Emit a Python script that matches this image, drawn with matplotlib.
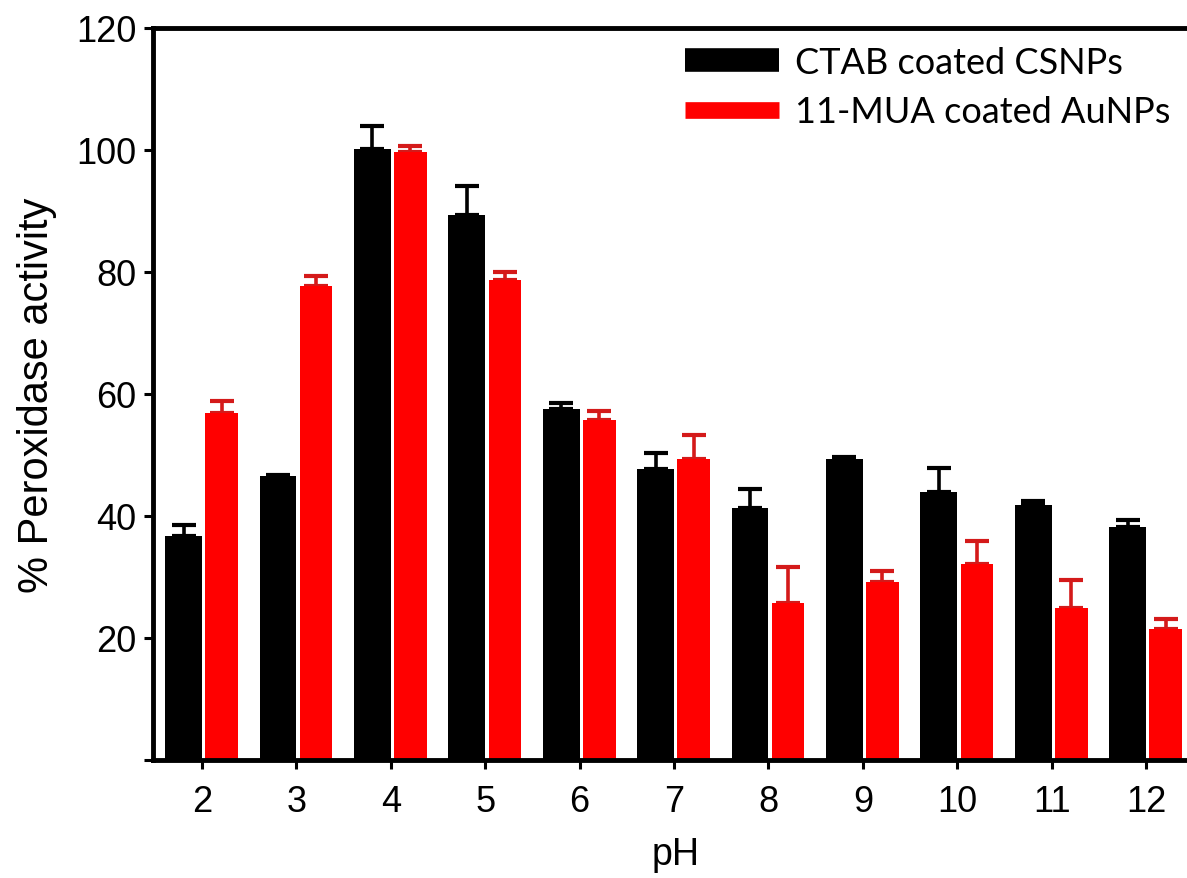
import matplotlib
matplotlib.use("Agg")
import matplotlib.pyplot as plt
from matplotlib.lines import Line2D
import numpy as np

# ---- data ----
ph = [2, 3, 4, 5, 6, 7, 8, 9, 10, 11, 12]
ctab_mean = [36.7, 46.5, 100.1, 89.4, 57.5, 47.7, 41.3, 49.4, 44.0, 41.8, 38.2]
ctab_err = [1.8, 0.3, 3.8, 4.7, 1.1, 2.7, 3.1, 0.3, 3.9, 0.7, 1.1]
mua_mean = [56.9, 77.7, 99.7, 78.7, 55.7, 49.3, 25.8, 29.1, 32.2, 24.9, 21.4]
mua_err = [1.9, 1.6, 1.0, 1.3, 1.5, 3.9, 5.8, 1.9, 3.7, 4.6, 1.7]
series_labels = ["CTAB coated CSNPs", "11-MUA coated AuNPs"]
yticks = [0, 20, 40, 60, 80, 100, 120]
ytick_labels = ["", "20", "40", "60", "80", "100", "120"]

plt.rcParams['font.family'] = ['Liberation Sans', 'DejaVu Sans']

W, H = 1187, 879
fig = plt.figure(figsize=(W / 100, H / 100), dpi=100)
ax_left, ax_right = 153, 1198
ax_top, ax_bot = 29, 761
ax = fig.add_axes([ax_left / W, 1 - ax_bot / H, (ax_right - ax_left) / W, (ax_bot - ax_top) / H])

x = np.array(ph, dtype=float)
black_w = 0.39
red_off = 0.035
red_w = 0.345
red_err_col = '#d41a1a'

ax.bar(x - black_w, ctab_mean, width=black_w, align='edge', color='black', zorder=2)
ax.bar(x + red_off, mua_mean, width=red_w, align='edge', color='#ff0000', zorder=2)

ax.errorbar(x - black_w / 2, ctab_mean, yerr=[np.zeros(len(x)), ctab_err], fmt='none',
            ecolor='black', elinewidth=2.6, capsize=8.5, capthick=3.0, zorder=1)
ax.errorbar(x + red_off + red_w / 2, mua_mean, yerr=[np.zeros(len(x)), mua_err], fmt='none',
            ecolor=red_err_col, elinewidth=2.6, capsize=8.5, capthick=3.0, zorder=1)

ax.set_xlim(1.48, 12.55)
ax.set_ylim(0, 120)
ax.set_xticks(ph)
ax.set_xticklabels([str(p) for p in ph])
ax.set_yticks(yticks)
ax.set_yticklabels(ytick_labels)

for side in ['left', 'bottom', 'top']:
    ax.spines[side].set_linewidth(3.5)
ax.spines['right'].set_visible(False)

ax.tick_params(axis='y', length=6.5, width=2.2, pad=5.5, labelsize=26, direction='out')
ax.tick_params(axis='x', length=6.5, width=2.2, pad=11, labelsize=26, direction='out')

ax.set_ylabel("% Peroxidase activity", fontsize=30, labelpad=14)
ax.set_xlabel("pH", fontsize=27, labelpad=12)

handles = [Line2D([0], [0], color='black', lw=17, solid_capstyle='butt'),
           Line2D([0], [0], color='#ff0000', lw=12, solid_capstyle='butt')]
leg = ax.legend(handles, series_labels, loc='upper left',
                bbox_to_anchor=(685 / W, 1 - 47 / H), bbox_transform=fig.transFigure,
                frameon=False, prop={'family': 'Lato', 'size': 26},
                handlelength=2.6, handletextpad=0.45, labelspacing=0.45, borderpad=0, borderaxespad=0)

fig.savefig("out.png", dpi=100)
